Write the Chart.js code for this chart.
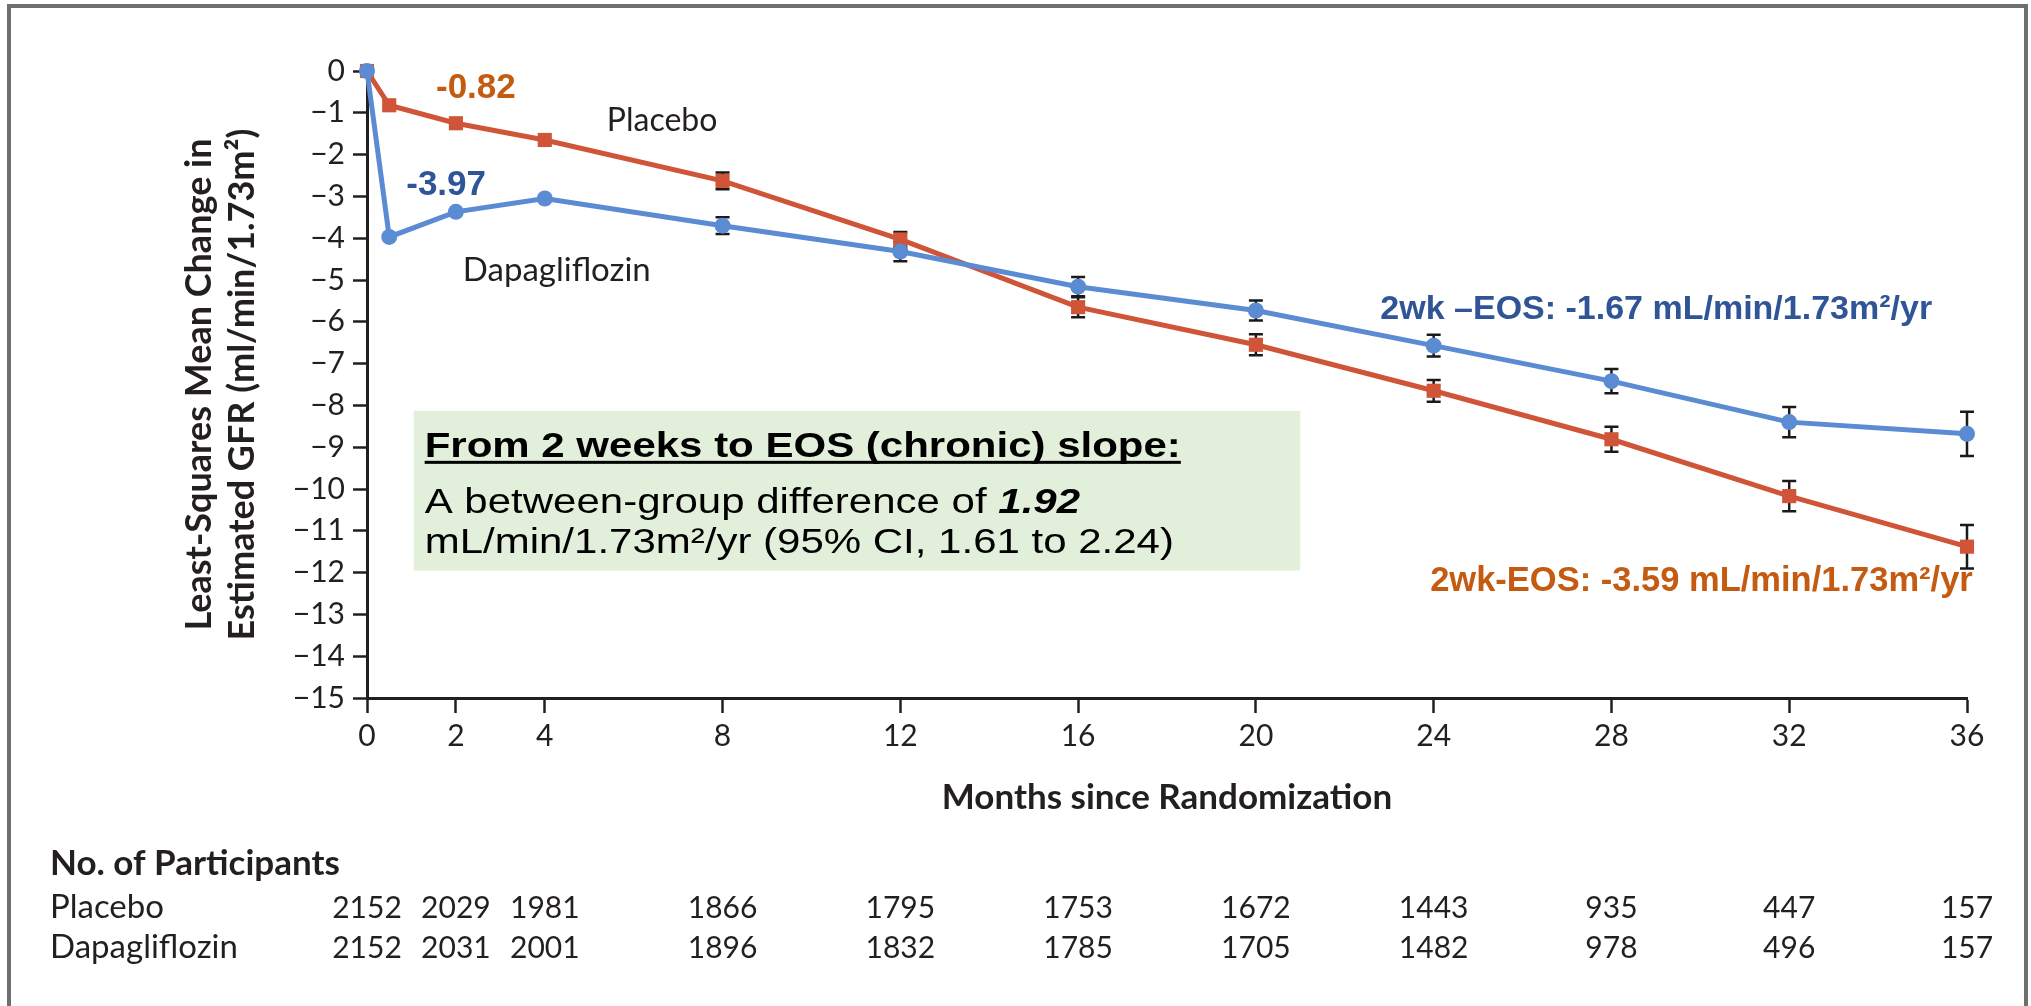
<!DOCTYPE html>
<html>
<head>
<meta charset="utf-8">
<script src="https://cdn.jsdelivr.net/npm/chart.js@4.4.1/dist/chart.umd.min.js"></script>
<style>
  html, body { margin: 0; padding: 0; background: #fff; }
  #wrap { position: relative; width: 2031px; height: 1006px; }
</style>
</head>
<body>
<div id="wrap"><canvas id="gfrChart"></canvas></div>
<script>
// months since randomization (0.5 = 2 weeks)
const months = [0, 0.5, 2, 4, 8, 12, 16, 20, 24, 28, 32, 36];
const placeboMean = [0, -0.82, -1.25, -1.65, -2.63, -4.03, -5.65, -6.55, -7.65, -8.81, -10.17, -11.38];
const placeboErr = [0, 0, 0, 0, 0.2, 0.18, 0.24, 0.25, 0.26, 0.3, 0.36, 0.52];
const dapaMean = [0, -3.97, -3.37, -3.05, -3.70, -4.32, -5.16, -5.73, -6.57, -7.42, -8.40, -8.68];
const dapaErr = [0, 0, 0, 0, 0.2, 0.23, 0.23, 0.24, 0.26, 0.29, 0.36, 0.53];

const xTicks = [0, 2, 4, 8, 12, 16, 20, 24, 28, 32, 36];
const placeboAtRisk = [2152, 2029, 1981, 1866, 1795, 1753, 1672, 1443, 935, 447, 157];
const dapaAtRisk = [2152, 2031, 2001, 1896, 1832, 1785, 1705, 1482, 978, 496, 157];

const ink = '#231f20';
const redLine = '#d05538';
const blueLine = '#5b8bd3';
const slideOrange = '#c55a11';
const slideBlue = '#2f5597';

Chart.defaults.font.family = 'Lato, "Open Sans", sans-serif';

// black error bars, drawn under the markers
const errorBars = {
    id: 'errorBars',
    beforeDatasetsDraw(chart) {
        const { ctx, scales: { x, y } } = chart;
        ctx.save();
        ctx.strokeStyle = '#1a1a1a';
        ctx.lineWidth = 2.5;
        chart.data.datasets.forEach(ds => {
            ds.data.forEach((p, i) => {
                const e = ds.errors[i];
                if (!e) return;
                const px = x.getPixelForValue(p.x);
                const top = y.getPixelForValue(p.y + e);
                const bot = y.getPixelForValue(p.y - e);
                ctx.beginPath();
                ctx.moveTo(px, top); ctx.lineTo(px, bot);
                ctx.moveTo(px - 7, top); ctx.lineTo(px + 7, top);
                ctx.moveTo(px - 7, bot); ctx.lineTo(px + 7, bot);
                ctx.stroke();
            });
        });
        ctx.restore();
    }
};

function textAt(ctx, chart, txt, xv, yv, font, color, align) {
    const { x, y } = chart.scales;
    ctx.font = font;
    ctx.fillStyle = color;
    ctx.textAlign = align || 'center';
    ctx.textBaseline = 'middle';
    ctx.fillText(txt, x.getPixelForValue(xv), y.getPixelForValue(yv));
}

const annotations = {
    id: 'annotations',
    afterDraw(chart) {
        const { ctx, scales: { x, y } } = chart;
        ctx.save();

        // series labels
        textAt(ctx, chart, 'Placebo', 6.64, -1.2, '32px Lato', ink);
        textAt(ctx, chart, 'Dapagliflozin', 4.27, -4.78, '33px Lato', ink);

        // slide call-outs
        const slideBold = 'bold 35px "Liberation Sans", Arial, sans-serif';
        textAt(ctx, chart, '-0.82', 2.45, -0.41, slideBold, slideOrange);
        textAt(ctx, chart, '-3.97', 1.78, -2.73, slideBold, slideBlue);
        textAt(ctx, chart, '2wk \u2013EOS: -1.67 mL/min/1.73m\u00b2/yr', 22.8, -5.72,
            'bold 34px "Liberation Sans", Arial, sans-serif', slideBlue, 'left');
        textAt(ctx, chart, '2wk-EOS: -3.59 mL/min/1.73m\u00b2/yr', 36.13, -12.22,
            'bold 34.5px "Liberation Sans", Arial, sans-serif', slideOrange, 'right');

        // green summary box
        const bx0 = x.getPixelForValue(1.05), bx1 = x.getPixelForValue(21.0);
        const by0 = y.getPixelForValue(-8.13), by1 = y.getPixelForValue(-11.95);
        ctx.fillStyle = '#e2efda';
        ctx.fillRect(bx0, by0, bx1 - bx0, by1 - by0);

        const stretch = 1.2;
        const tx = bx0 + 11;
        ctx.fillStyle = '#000';
        ctx.textAlign = 'left';
        ctx.textBaseline = 'alphabetic';

        const line1 = 'From 2 weeks to EOS (chronic) slope:';
        ctx.font = 'bold 35px "Liberation Sans", Arial, sans-serif';
        let w1 = ctx.measureText(line1).width;
        ctx.save();
        ctx.translate(tx, by0 + 46);
        ctx.scale(stretch, 1);
        ctx.fillText(line1, 0, 0);
        ctx.fillRect(0, 4, w1, 3);
        ctx.restore();

        const line2a = 'A between-group difference of ';
        ctx.save();
        ctx.translate(tx, by0 + 102);
        ctx.scale(stretch, 1);
        ctx.font = '35px "Liberation Sans", Arial, sans-serif';
        ctx.fillText(line2a, 0, 0);
        const w2 = ctx.measureText(line2a).width;
        ctx.font = 'italic bold 35px "Liberation Sans", Arial, sans-serif';
        ctx.fillText('1.92', w2, 0);
        ctx.restore();

        ctx.save();
        ctx.translate(tx, by0 + 142);
        ctx.scale(stretch, 1);
        ctx.font = '35px "Liberation Sans", Arial, sans-serif';
        ctx.fillText('mL/min/1.73m\u00b2/yr (95% CI, 1.61 to 2.24)', 0, 0);
        ctx.restore();

        // number at risk table
        ctx.fillStyle = ink;
        ctx.textBaseline = 'alphabetic';
        ctx.textAlign = 'left';
        ctx.font = 'bold 35px Lato';
        ctx.fillText('No. of Participants', 50, 875);
        ctx.font = '33px Lato';
        ctx.fillText('Placebo', 50, 918);
        ctx.fillText('Dapagliflozin', 50, 958);
        ctx.font = '30px Lato';
        ctx.textAlign = 'center';
        xTicks.forEach((m, i) => {
            const px = x.getPixelForValue(m);
            ctx.fillText(String(placeboAtRisk[i]), px, 918);
            ctx.fillText(String(dapaAtRisk[i]), px, 958);
        });

        // picture frame
        ctx.strokeStyle = '#6f6f6f';
        ctx.lineWidth = 4;
        ctx.strokeRect(9, 6, 2017, 1010);

        ctx.restore();
    }
};

new Chart(document.getElementById('gfrChart'), {
    type: 'line',
    data: {
        datasets: [
            {
                label: 'Dapagliflozin',
                data: months.map((m, i) => ({ x: m, y: dapaMean[i] })),
                errors: dapaErr,
                borderColor: blueLine,
                backgroundColor: blueLine,
                borderWidth: 5,
                pointStyle: 'circle',
                pointRadius: 8,
                pointBorderWidth: 0,
                tension: 0,
                clip: false
            },
            {
                label: 'Placebo',
                data: months.map((m, i) => ({ x: m, y: placeboMean[i] })),
                errors: placeboErr,
                borderColor: redLine,
                backgroundColor: redLine,
                borderWidth: 5,
                pointStyle: 'rect',
                pointRadius: 10,
                pointBorderWidth: 0,
                tension: 0,
                clip: false
            }
        ]
    },
    options: {
        responsive: true,
        maintainAspectRatio: false,
        animation: false,
        layout: { autoPadding: false, padding: { top: 71, right: 64, bottom: 0, left: 0 } },
        plugins: { legend: { display: false }, tooltip: { enabled: false } },
        scales: {
            x: {
                type: 'linear',
                min: 0,
                max: 36,
                afterBuildTicks(s) { s.ticks = xTicks.map(v => ({ value: v })); },
                afterFit(s) { s.height = 308; },
                ticks: { color: ink, font: { size: 30 }, padding: 5, autoSkip: false, maxRotation: 0 },
                grid: { drawOnChartArea: false, tickLength: 15, tickColor: ink, tickWidth: 2.5 },
                border: { color: ink, width: 3 },
                title: {
                    display: true,
                    text: 'Months since Randomization',
                    color: ink,
                    font: { size: 35, weight: 'bold' },
                    padding: { top: 0, bottom: 187 }
                }
            },
            y: {
                min: -15,
                max: 0,
                afterFit(s) { s.width = 367; },
                ticks: {
                    stepSize: 1,
                    autoSkip: false,
                    color: ink,
                    font: { size: 30 },
                    padding: 8,
                    callback: v => v === 0 ? '0' : '\u2212' + Math.abs(v)
                },
                grid: { drawOnChartArea: false, tickLength: 14, tickColor: ink, tickWidth: 2.5 },
                border: { color: ink, width: 3 },
                title: {
                    display: true,
                    text: ['Least-Squares Mean Change in', 'Estimated GFR (ml/min/1.73m\u00b2)'],
                    color: ink,
                    font: { size: 36, weight: 'bold', lineHeight: 1.2 },
                    padding: { top: 178, bottom: 0 }
                }
            }
        }
    },
    plugins: [errorBars, annotations]
});
</script>
</body>
</html>
